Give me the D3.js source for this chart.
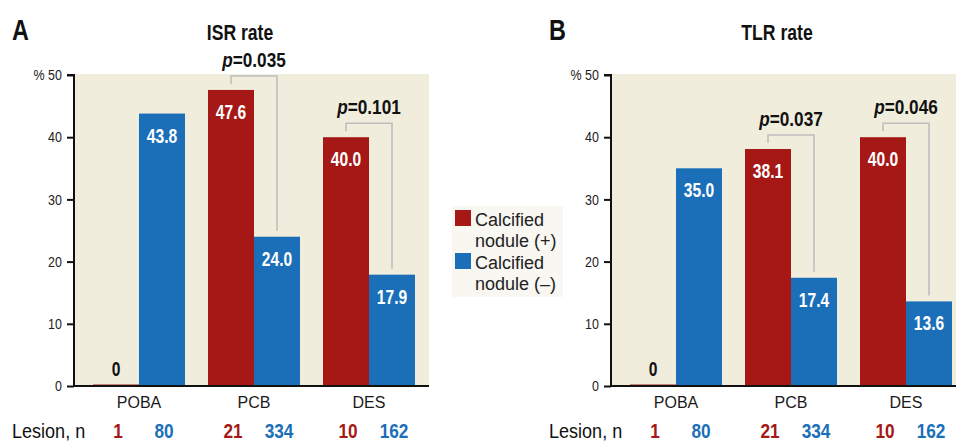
<!DOCTYPE html>
<html><head><meta charset="utf-8">
<script src="https://cdn.jsdelivr.net/npm/d3@7"></script>
<style>
body{margin:0;background:#fff;}
svg{display:block;}
</style></head>
<body>
<svg id="chart" width="956" height="442"></svg>
<script>
const categories = ["POBA", "PCB", "DES"];
const isrPos = [0, 47.6, 40.0];
const isrNeg = [43.8, 24.0, 17.9];
const tlrPos = [0, 38.1, 40.0];
const tlrNeg = [35.0, 17.4, 13.6];
const isrP = [null, "0.035", "0.101"];
const tlrP = [null, "0.037", "0.046"];
const lesionPos = [1, 21, 10];
const lesionNeg = [80, 334, 162];
const yTicks = [0, 10, 20, 30, 40, 50];
const legendLabels = [["Calcified", "nodule (+)"], ["Calcified", "nodule (\u2013)"]];

const RED = "#a51815", BLUE = "#1b6fb8", BG = "#f1eddd";
const FONT = '"Liberation Sans",Arial,sans-serif';
const svg = d3.select("#chart");

// condensed text helper: horizontal scaling of a regular font
function txt(parent, x, y, s, o) {
  const g = parent.append("g").attr("transform", `translate(${x},${y}) scale(${o.sx || 1},1)`);
  const t = g.append("text").attr("text-anchor", o.anchor || "middle")
    .style("font-family", FONT).style("font-size", (o.size || 16) + "px")
    .style("font-weight", o.weight || "normal").attr("fill", o.fill || "#111");
  if (o.pval) {
    t.append("tspan").style("font-style", "italic").text("p");
    t.append("tspan").text("=" + s);
  } else t.text(s);
  return t;
}

function panel(ox, letter, title, pos, neg, pv) {
  const g = svg.append("g").attr("transform", `translate(${ox},0)`);
  const y = d3.scaleLinear().domain([0, 50]).range([386, 75]);
  const x = d3.scalePoint().domain(categories).range([65, 295]);
  const bw = 46;

  g.append("rect").attr("x", 0).attr("y", y(50) - 1).attr("width", 355).attr("height", y(0) - y(50) + 1).attr("fill", BG);

  categories.forEach((c, i) => {
    const cx = x(c);
    const hp = Math.max(y(0) - y(pos[i]), 1.5);
    g.append("rect").attr("x", cx - bw).attr("y", y(0) - hp).attr("width", bw).attr("height", hp).attr("fill", RED);
    g.append("rect").attr("x", cx).attr("y", y(neg[i])).attr("width", bw).attr("height", y(0) - y(neg[i])).attr("fill", BLUE);

    if (pos[i] === 0) {
      txt(g, cx - bw / 2, y(0) - 10, "0", {size: 20, weight: "bold", sx: 0.78, fill: "#111"});
    } else {
      txt(g, cx - bw / 2, y(pos[i]) + 29, pos[i].toFixed(1), {size: 20, weight: "bold", sx: 0.78, fill: "#fff"});
    }
    txt(g, cx + bw / 2, y(neg[i]) + 29, neg[i].toFixed(1), {size: 20, weight: "bold", sx: 0.78, fill: "#fff"});

    if (pv[i]) {
      const top = Math.min(y(pos[i]), y(neg[i]));
      const by = top - 14;
      const x1 = cx - bw / 2, x2 = cx + bw / 2;
      g.append("path")
        .attr("d", `M${x1},${y(pos[i]) - 6}V${by}H${x2}V${y(neg[i]) - 6}`)
        .attr("fill", "none").attr("stroke", "#bdbdbd").attr("stroke-width", 1.6);
      txt(g, cx, by - 9, pv[i], {size: 20, weight: "bold", sx: 0.86, pval: true});
    }

    txt(g, cx, 408, c, {size: 16, fill: "#1a1a1a"});
    txt(g, cx - bw / 2 + 2, 438, lesionPos[i], {size: 21, weight: "bold", sx: 0.82, fill: RED});
    txt(g, cx + bw / 2 + 2, 438, lesionNeg[i], {size: 21, weight: "bold", sx: 0.82, fill: BLUE});
  });

  const ax = g.append("g").call(d3.axisLeft(y).tickValues(yTicks).tickSize(7).tickPadding(7)
    .tickFormat(d => d === 50 ? "% 50" : d));
  ax.select(".domain").attr("stroke", "#111").attr("stroke-width", 2).attr("d", `M-7,${y(50)}H0V${y(0)}`);
  ax.selectAll(".tick line").attr("stroke", "#111").attr("stroke-width", 2);
  ax.selectAll(".tick text").style("font-family", FONT).style("font-size", "14.5px").attr("fill", "#222")
    .attr("transform", "scale(0.86,1)");

  g.append("line").attr("x1", 0).attr("x2", 355).attr("y1", y(0)).attr("y2", y(0)).attr("stroke", "#111").attr("stroke-width", 2);

  txt(g, -62, 40, letter, {size: 30, weight: "bold", sx: 0.78, anchor: "start"});
  txt(g, 166, 40, title, {size: 22, weight: "bold", sx: 0.8});
  txt(g, -62, 438, "Lesion, n", {size: 20.5, sx: 0.88, anchor: "start"});
}

panel(74, "A", "ISR rate", isrPos, isrNeg, isrP);
panel(611, "B", "TLR rate", tlrPos, tlrNeg, tlrP);

const lg = svg.append("g").attr("transform", "translate(452,206)");
lg.append("rect").attr("width", 111).attr("height", 91).attr("fill", "#f8f7f1");
[RED, BLUE].forEach((col, i) => {
  const yy = 4 + i * 43;
  lg.append("rect").attr("x", 3).attr("y", yy).attr("width", 16).attr("height", 16).attr("fill", col);
  legendLabels[i].forEach((s, j) => {
    lg.append("text").attr("x", 23).attr("y", yy + 16 + j * 21).style("font-family", FONT)
      .style("font-size", "18px").attr("fill", "#222").text(s);
  });
});
</script>
</body></html>
